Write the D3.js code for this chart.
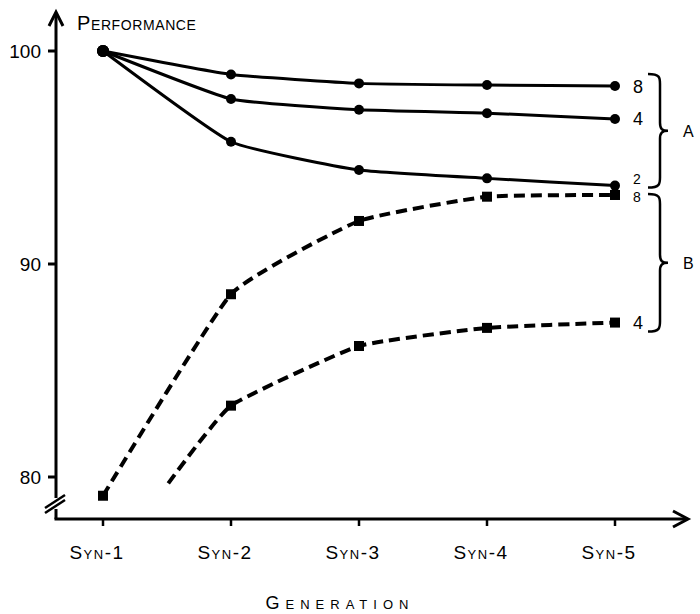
<!DOCTYPE html>
<html><head><meta charset="utf-8">
<script src="https://cdn.jsdelivr.net/npm/d3@7"></script>
<style>body{margin:0;background:#fff}svg{display:block}</style>
</head><body>
<svg id="c" width="700" height="614"></svg>
<script>
const categories = ["Syn-1","Syn-2","Syn-3","Syn-4","Syn-5"];
const yTicks = [80, 90, 100];
const genA = [1,2,3,4,5];
const a8 = [100, 98.9, 98.48, 98.4, 98.36];
const a4 = [100, 97.75, 97.24, 97.08, 96.81];
const a2 = [100, 95.74, 94.41, 94.02, 93.68];
const genB8 = [1,2,3,4,5];
const b8 = [79.12, 88.58, 92.02, 93.16, 93.24];
const genB4 = [1.51,2,3,4,5];
const b4 = [79.7, 83.35, 86.15, 87.0, 87.25];
const endLabels = ["8","4","2","8","4"];
const groupLabels = ["A","B"];

const svg = d3.select("#c");
const x = d3.scaleLinear().domain([1,5]).range([103,615]);
const y = d3.scaleLinear().domain([80,100]).range([477,51]);
const font = "'Liberation Sans', Arial, sans-serif";

// axes
const axisX0 = 56, axisY0 = 519;
svg.append("line").attr("x1",axisX0).attr("y1",axisY0).attr("x2",axisX0).attr("y2",13)
  .attr("stroke","#000").attr("stroke-width",3);
svg.append("line").attr("x1",axisX0-1.5).attr("y1",axisY0).attr("x2",687).attr("y2",axisY0)
  .attr("stroke","#000").attr("stroke-width",3);
svg.append("path").attr("d",`M${axisX0-7},${26} L${axisX0},${12} L${axisX0+7},${26}`)
  .attr("fill","none").attr("stroke","#000").attr("stroke-width",3);
svg.append("path").attr("d",`M673,${axisY0-8} L688,${axisY0} L673,${axisY0+8}`)
  .attr("fill","none").attr("stroke","#000").attr("stroke-width",3);
// axis break
svg.append("rect").attr("x",axisX0-3).attr("y",498).attr("width",6).attr("height",11).attr("fill","#fff");
svg.append("line").attr("x1",45).attr("y1",508).attr("x2",65).attr("y2",495).attr("stroke","#000").attr("stroke-width",2.5);
svg.append("line").attr("x1",45).attr("y1",513).attr("x2",65).attr("y2",500).attr("stroke","#000").attr("stroke-width",2.5);

// y ticks
yTicks.forEach(t => {
  svg.append("line").attr("x1",axisX0-8).attr("x2",axisX0).attr("y1",y(t)).attr("y2",y(t))
    .attr("stroke","#000").attr("stroke-width",3);
  svg.append("text").attr("x",41).attr("y",y(t)+7).attr("text-anchor","end")
    .attr("font-family",font).attr("font-size",19).text(t);
});
// x ticks
categories.forEach((c,i) => {
  svg.append("line").attr("x1",x(i+1)).attr("x2",x(i+1)).attr("y1",axisY0).attr("y2",axisY0+7)
    .attr("stroke","#000").attr("stroke-width",2.5);
  svg.append("text").attr("x",x(i+1)-6).attr("y",559).attr("text-anchor","middle")
    .attr("font-family",font).attr("font-size",19).style("font-variant","small-caps")
    .attr("letter-spacing",1.5).text(c);
});
svg.append("text").attr("x",77).attr("y",30).attr("font-family",font).attr("font-size",20)
  .attr("letter-spacing",0.6).style("font-variant","small-caps").text("Performance");
svg.append("text").attr("x",340).attr("y",609).attr("text-anchor","middle").attr("font-family",font)
  .attr("font-size",18).style("font-variant","small-caps").attr("letter-spacing",6).text("Generation");

const lineA = d3.line().x(d=>x(d[0])).y(d=>y(d[1])).curve(d3.curveCardinal.tension(0.6));
const lineB = d3.line().x(d=>x(d[0])).y(d=>y(d[1])).curve(d3.curveCardinal.tension(0.6));
const seriesA = [a8,a4,a2].map(v => genA.map((g,i)=>[g,v[i]]));
const seriesB = [genB8.map((g,i)=>[g,b8[i]]), genB4.map((g,i)=>[g,b4[i]])];

seriesA.forEach(s => {
  svg.append("path").attr("d",lineA(s)).attr("fill","none").attr("stroke","#000").attr("stroke-width",3);
  s.forEach((p,i) => svg.append("circle").attr("cx",x(p[0])).attr("cy",y(p[1])).attr("r",i===0?6:5).attr("fill","#000"));
});
seriesB.forEach(s => {
  svg.append("path").attr("d",lineB(s)).attr("fill","none").attr("stroke","#000").attr("stroke-width",4)
    .attr("stroke-dasharray","11,6");
  s.filter(p=>Number.isInteger(p[0])).forEach(p => svg.append("rect")
    .attr("x",x(p[0])-5).attr("y",y(p[1])-5).attr("width",10).attr("height",10).attr("fill","#000"));
});

// end labels
const ends = [a8[4],a4[4],a2[4],b8[4],b4[4]];
const dy = [7,6,-2,7,6];
const fs = [18,18,14,14,18];
ends.forEach((v,i) => {
  svg.append("text").attr("x",633).attr("y",y(v)+dy[i]).attr("font-family",font).attr("font-size",fs[i]).text(endLabels[i]);
});

// braces
function brace(x0, y0, y1, w) {
  const m = (y0+y1)/2;
  return `M${x0},${y0} C${x0+w},${y0} ${x0+w},${y0+4} ${x0+w},${y0+10} L${x0+w},${m-8} C${x0+w},${m-2} ${x0+w+2},${m} ${x0+w+8},${m}` +
         ` M${x0+w+8},${m} C${x0+w+2},${m} ${x0+w},${m+2} ${x0+w},${m+8} L${x0+w},${y1-10} C${x0+w},${y1-4} ${x0+w},${y1} ${x0},${y1}`;
}
const braceA = [y(a8[4])-12, y(a2[4])+2];
const braceB = [y(b8[4])-1, y(b4[4])+9];
[braceA, braceB].forEach((b,i) => {
  svg.append("path").attr("d",brace(648,b[0],b[1],12)).attr("fill","none").attr("stroke","#000").attr("stroke-width",2.5);
  svg.append("text").attr("x",683).attr("y",(b[0]+b[1])/2+6).attr("font-family",font).attr("font-size",16).text(groupLabels[i]);
});
</script>
</body></html>
